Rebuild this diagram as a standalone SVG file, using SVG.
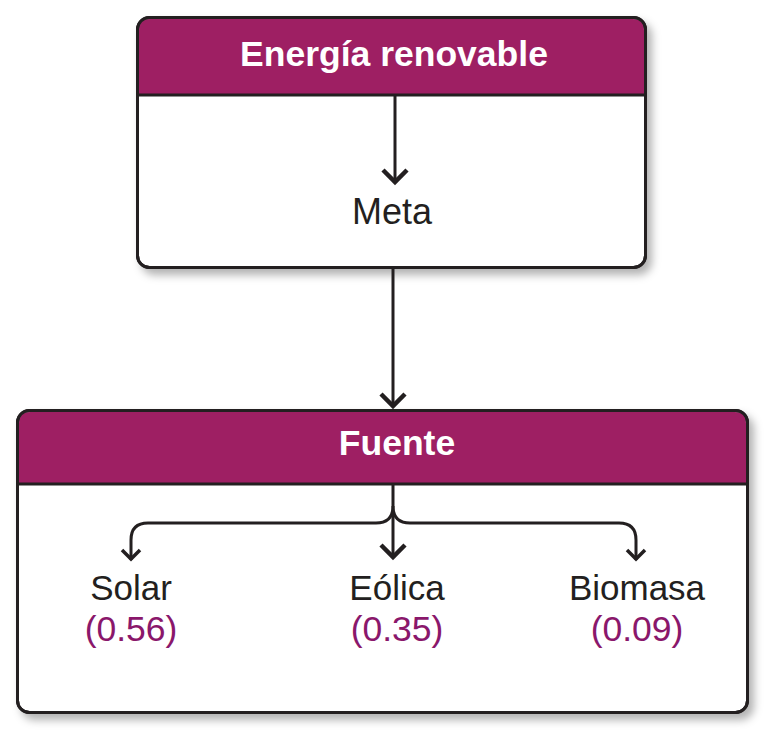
<svg xmlns="http://www.w3.org/2000/svg" width="784" height="749" viewBox="0 0 784 749">
<defs>
<style>
.box{fill:#fff;stroke:#231f20;stroke-width:3}
.hdr{fill:#9e1f63}
.div{stroke:#231f20;stroke-width:3}
.ht{font-family:"Liberation Sans",Arial,sans-serif;font-weight:bold;font-size:35.5px;fill:#fff;text-anchor:middle}
.lbl{font-family:"Liberation Sans",Arial,sans-serif;font-size:35px;fill:#231f20;text-anchor:middle}
.val{font-family:"Liberation Sans",Arial,sans-serif;font-size:35.5px;fill:#8a176b;text-anchor:middle}
.con{fill:none;stroke:#231f20;stroke-width:3}
</style>
<filter id="sh" x="-10%" y="-10%" width="130%" height="130%">
<feDropShadow dx="5" dy="6" stdDeviation="4" flood-color="#000" flood-opacity="0.3"/>
</filter>
<marker id="big" viewBox="0 0 18 30" refX="13" refY="15" markerWidth="18" markerHeight="30" markerUnits="userSpaceOnUse" orient="auto">
<path d="M2,3 L14,15 L2,27" fill="none" stroke="#231f20" stroke-width="4.5"/>
</marker>
<marker id="sm" viewBox="0 0 16 24" refX="12" refY="12" markerWidth="16" markerHeight="24" markerUnits="userSpaceOnUse" orient="auto">
<path d="M2,3 L11,12 L2,21" fill="none" stroke="#231f20" stroke-width="3.5"/>
</marker>
</defs>
<g id="energia">
<rect class="box" x="137.5" y="17.5" width="508" height="250" rx="12" filter="url(#sh)"/>
<path class="hdr" d="M139,95 V30 Q139,19 150,19 H633 Q644,19 644,30 V95 Z"/>
<line class="div" x1="138" y1="95" x2="645" y2="95"/>
<rect x="137.5" y="17.5" width="508" height="250" rx="12" fill="none" stroke="#231f20" stroke-width="3"/>
<text class="ht" x="394" y="66">Energía renovable</text>
<text class="lbl" x="392" y="224" style="font-size:36px">Meta</text>
</g>
<g id="fuente">
<rect class="box" x="17.5" y="410.5" width="730" height="302" rx="12" filter="url(#sh)"/>
<path class="hdr" d="M19,484 V423 Q19,412 30,412 H735 Q746,412 746,423 V484 Z"/>
<line class="div" x1="18" y1="484" x2="747" y2="484"/>
<rect x="17.5" y="410.5" width="730" height="302" rx="12" fill="none" stroke="#231f20" stroke-width="3"/>
<text class="ht" x="397" y="455">Fuente</text>
<text class="lbl" x="131" y="600">Solar</text>
<text class="val" x="131" y="641">(0.56)</text>
<text class="lbl" x="397" y="600">Eólica</text>
<text class="val" x="397" y="641">(0.35)</text>
<text class="lbl" x="637" y="600">Biomasa</text>
<text class="val" x="637" y="641">(0.09)</text>
</g>
<g id="connectors">
<path class="con" d="M395,95 V181" marker-end="url(#big)"/>
<path class="con" d="M393,268 V405" marker-end="url(#big)"/>
<path class="con" d="M393,485 V506 Q393,523 376,523 H148 Q131,523 131,540 V560" marker-end="url(#sm)"/>
<path class="con" d="M393,506 Q393,523 410,523 H619 Q636,523 636,540 V560" marker-end="url(#sm)"/>
<path class="con" d="M393,512 V556" marker-end="url(#big)"/>
</g>
</svg>
